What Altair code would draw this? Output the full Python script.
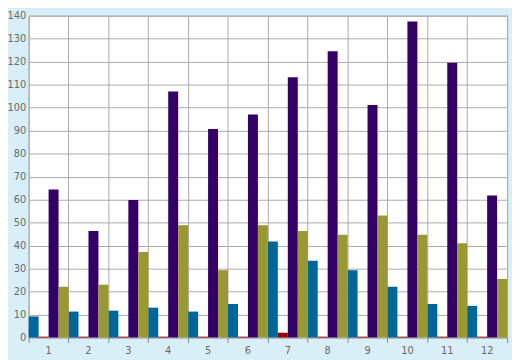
import altair as alt
import pandas as pd

months = ["1", "2", "3", "4", "5", "6", "7", "8", "9", "10", "11", "12"]
series = ["S1", "S2", "S3", "S4"]
colors = ["#006699", "#990000", "#330066", "#999933"]

s1 = [9.2, 11.3, 11.7, 13.0, 11.3, 14.6, 41.8, 33.4, 29.3, 22.1, 14.6, 13.8]
s2 = [0.4, 0.4, 0.4, 0.4, 0.4, 0.4, 2.1, 0.4, 0.4, 0.4, 0.4, 0.4]
s3 = [64.4, 46.4, 59.8, 107.0, 90.7, 97.0, 113.2, 124.5, 101.1, 137.5, 119.5, 61.8]
s4 = [22.1, 23.0, 37.2, 48.9, 29.3, 48.9, 46.4, 44.7, 53.1, 44.7, 41.0, 25.5]

rows = []
for name, vals in zip(series, [s1, s2, s3, s4]):
    for m, v in zip(months, vals):
        rows.append({"month": m, "series": name, "value": v})
df = pd.DataFrame(rows)

W, H = 486, 327

chart = alt.Chart(df).mark_bar().encode(
    x=alt.X("month:N", sort=months,
            scale=alt.Scale(paddingInner=0, paddingOuter=0),
            axis=alt.Axis(title=None, labelAngle=0, bandPosition=1, tickExtra=True,
                          labelOffset=0, grid=True, gridColor="#aaaaaa",
                          gridWidth=1, tickColor="#888888", tickSize=5, domain=False,
                          labelPadding=3)),
    xOffset=alt.XOffset("series:N", sort=series,
                        scale=alt.Scale(paddingInner=0, paddingOuter=0)),
    y=alt.Y("value:Q", scale=alt.Scale(domain=[0, 140], nice=False),
            axis=alt.Axis(title=None, values=list(range(0, 141, 10)), ticks=False,
                          grid=True, gridColor="#aaaaaa", gridWidth=1, domain=False,
                          labelPadding=3)),
    color=alt.Color("series:N", scale=alt.Scale(domain=series, range=colors), legend=None),
).properties(
    width=W, height=H,
    autosize=alt.AutoSizeParams(type="none"),
    padding={"left": 21, "top": 5, "right": 5, "bottom": 20},
    background="#d9eff7",
).configure_view(
    fill="white", stroke="#aaaaaa", strokeWidth=1
).configure_axis(
    labelFont="DejaVu Sans", labelFontSize=10, labelColor="#6a6a6a"
)

chart.save("out.html", embed_options={"renderer": "svg", "actions": False})
